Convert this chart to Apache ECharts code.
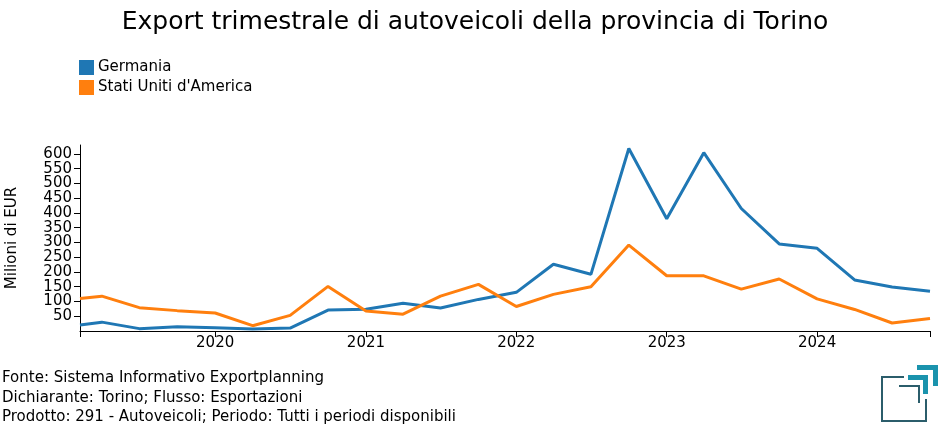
<!DOCTYPE html>
<html><head><meta charset="utf-8">
<script src="https://cdn.jsdelivr.net/npm/echarts@6/dist/echarts.min.js"></script>
<style>html,body{margin:0;padding:0;background:#fff}#c{width:950px;height:435px}</style>
</head><body><div id="c"></div>
<script>
var dates = ['2019-02-07','2019-04-01','2019-07-01','2019-10-01','2020-01-01','2020-04-01','2020-07-01','2020-10-01',
 '2021-01-01','2021-04-01','2021-07-01','2021-10-01','2022-01-01','2022-04-01','2022-07-01','2022-10-01',
 '2023-01-01','2023-04-01','2023-07-01','2023-10-01','2024-01-01','2024-04-01','2024-07-01','2024-10-01'];
var germania = [20,30,8,14,11,7,10,71,74,94,78,107,131,226,192,618,380,604,415,295,280,173,149,135];
var usa = [110,118,79,69,61,18,53,151,68,57,118,158,83,124,150,291,187,187,142,176,109,73,27,42];
var yearTicks = ['2020','2021','2022','2023','2024'];
var yTicks = [50,100,150,200,250,300,350,400,450,500,550,600];
var footer = ['Fonte: Sistema Informativo Exportplanning','Dichiarante: Torino; Flusso: Esportazioni','Prodotto: 291 - Autoveicoli; Periodo: Tutti i periodi disponibili'];

var FONT = 'DejaVu Sans';
function ts(s){ var p = s.split('-'); return Date.UTC(+p[0], +p[1]-1, +p[2]); }
var xMin = ts(dates[0]), xMax = ts(dates[dates.length-1]);
var yearVals = yearTicks.map(function(y){ return ts(y+'-01-01'); });
var yOdd = yTicks.filter(function(v,i){ return i % 2 === 0; });
var yEven = yTicks.filter(function(v,i){ return i % 2 === 1; });

function yAx(vals, main){
  return {type: 'value', min: 0, max: 630, position: 'left',
    name: main ? 'Milioni di EUR' : '', nameLocation: 'middle', nameGap: 60,
    nameTextStyle: {fontFamily: FONT, fontSize: 15, color: '#000'},
    axisLine: {show: main, onZero: false, lineStyle: {color: '#000', width: 1}},
    axisTick: {show: true, length: 6, lineStyle: {color: '#000'}, customValues: vals},
    axisLabel: {customValues: vals, color: '#000', fontSize: 15, fontFamily: FONT, margin: 8,
      hideOverlap: false, showMinLabel: true, showMaxLabel: true},
    splitLine: {show: false}};
}

var chart = echarts.init(document.getElementById('c'));
chart.setOption({
  animation: false,
  textStyle: {fontFamily: FONT},
  title: {text: 'Export trimestrale di autoveicoli della provincia di Torino', left: 'center', top: 5,
    textStyle: {fontFamily: FONT, fontSize: 25, fontWeight: 'normal', color: '#000'}},
  legend: {orient: 'vertical', left: 74, top: 55, itemWidth: 15, itemHeight: 15, itemGap: 5,
    icon: 'rect', textStyle: {fontFamily: FONT, fontSize: 15, color: '#000', padding: [0,0,0,-1]},
    data: ['Germania', "Stati Uniti d'America"]},
  grid: {left: 80, right: 20, top: 145, bottom: 104, containLabel: false, outerBoundsMode: 'none'},
  xAxis: {type: 'value', min: xMin, max: xMax, scale: true,
    axisLine: {lineStyle: {color: '#000', width: 1}},
    axisTick: {length: 6, lineStyle: {color: '#000'}, customValues: [xMin].concat(yearVals).concat([xMax])},
    axisLabel: {customValues: yearVals, color: '#000', fontSize: 15, fontFamily: FONT, margin: 5, hideOverlap: false,
      showMinLabel: true, showMaxLabel: true,
      formatter: function(v){ return String(new Date(v).getUTCFullYear()); }},
    splitLine: {show: false}},
  yAxis: [yAx(yOdd, true), yAx(yEven, false)],
  series: [
    {name: 'Germania', type: 'line', showSymbol: false, color: '#1f77b4', lineStyle: {width: 3},
      data: dates.map(function(d,i){ return [ts(d), germania[i]]; })},
    {name: "Stati Uniti d'America", type: 'line', showSymbol: false, color: '#ff7f0e', lineStyle: {width: 3},
      data: dates.map(function(d,i){ return [ts(d), usa[i]]; })}
  ],
  graphic: footer.map(function(t,i){
    return {type: 'text', left: 2, top: 371 + i*19.5, style: {text: t, font: '15px "DejaVu Sans"', fill: '#000'}};
  }).concat([
    {type: 'polyline', shape: {points: [[904,377],[882,377],[882,421],[926,421],[926,399]]}, style: {stroke: '#2b5d6b', lineWidth: 2, fill: null}},
    {type: 'polyline', shape: {points: [[899,386],[919,386],[919,403]]}, style: {stroke: '#2b5d6b', lineWidth: 2, fill: null}},
    {type: 'polyline', shape: {points: [[908,377.5],[925.5,377.5],[925.5,394]]}, style: {stroke: '#1a93ad', lineWidth: 5, fill: null}},
    {type: 'polyline', shape: {points: [[917,367.5],[935.5,367.5],[935.5,386]]}, style: {stroke: '#1a93ad', lineWidth: 5, fill: null}}
  ])
});
</script></body></html>
